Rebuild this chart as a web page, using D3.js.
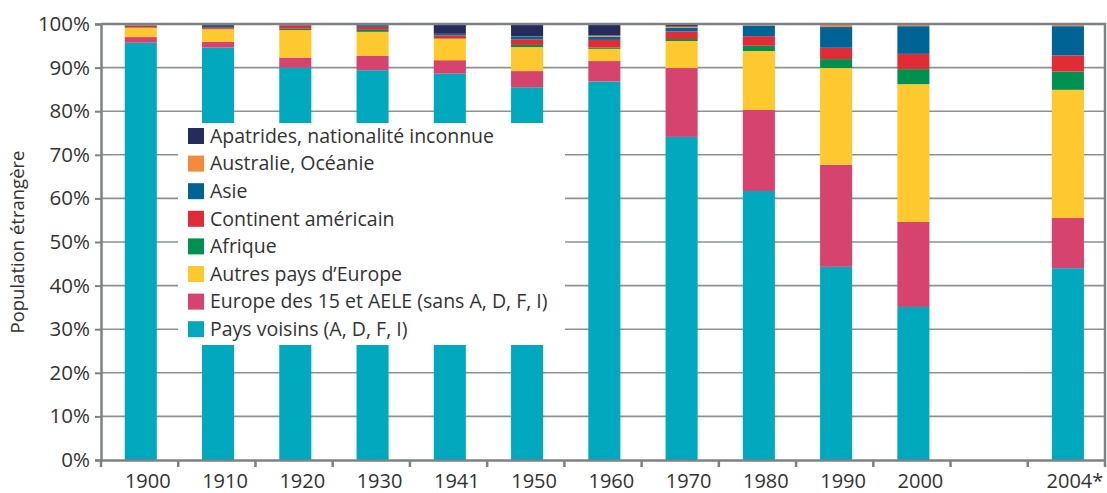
<!DOCTYPE html>
<html>
<head>
<meta charset="utf-8">
<script src="https://cdn.jsdelivr.net/npm/d3@7"></script>
<style>
  body { margin: 0; background: #fff; }
  text { font-family: "Open Sans", "DejaVu Sans", sans-serif; fill: #333; }
</style>
</head>
<body>
<div id="chart"></div>
<script>
// Categories (the blank one is the gap before 2004*)
const years = ['1900', '1910', '1920', '1930', '1941', '1950', '1960', '1970', '1980', '1990', '2000', '', '2004*'];

// Series, bottom to top, shares in percent
const seriesNames = [
  'Pays voisins (A, D, F, I)',
  'Europe des 15 et AELE (sans A, D, F, I)',
  'Autres pays d\u2019Europe',
  'Afrique',
  'Continent américain',
  'Asie',
  'Australie, Océanie',
  'Apatrides, nationalité inconnue'
];
const paysVoisins   = [95.7, 94.6, 90.0, 89.4, 88.6, 85.5, 86.8, 74.1, 61.7, 44.3, 35.1, null, 44.0];
const europe15      = [1.3, 1.3, 2.3, 3.3, 3.1, 3.7, 4.7, 15.8, 18.6, 23.4, 19.5, null, 11.5];
const autresEurope  = [2.1, 2.9, 6.3, 5.5, 4.9, 5.5, 2.8, 6.2, 13.5, 22.2, 31.6, null, 29.4];
const afrique       = [0.1, 0.1, 0.3, 0.45, 0.1, 0.5, 0.3, 0.45, 1.2, 2.05, 3.45, null, 4.2];
const amerique      = [0.4, 0.4, 0.8, 0.7, 0.7, 1.3, 1.75, 1.75, 2.2, 2.6, 3.5, null, 3.7];
const asie          = [0.1, 0.5, 0.1, 0.4, 0.3, 0.7, 0.7, 0.8, 2.45, 4.75, 6.35, null, 6.7];
const oceanie       = [0.05, 0.05, 0.05, 0.05, 0.05, 0.05, 0.3, 0.3, 0.3, 0.6, 0.3, null, 0.3];
const apatrides     = [0.25, 0.15, 0.15, 0.2, 2.25, 2.75, 2.65, 0.6, 0.05, 0.1, 0.2, null, 0.2];

const colors = ['#00a9bd', '#d6436e', '#fec92f', '#009150', '#e12c35', '#006395', '#f58a3d', '#232c5a'];

const yTicks = [0, 10, 20, 30, 40, 50, 60, 70, 80, 90, 100];

const allSeries = [paysVoisins, europe15, autresEurope, afrique, amerique, asie, oceanie, apatrides];

const W = 1107, H = 493;
const margin = { top: 24, right: 2, bottom: 33, left: 101 };

const svg = d3.select('#chart').append('svg')
  .attr('width', W)
  .attr('height', H);

const x = d3.scaleBand()
  .domain(years)
  .range([margin.left, W - margin.right])
  .paddingInner(0.585)
  .paddingOuter(0.29)
  .align(0.53);

const y = d3.scaleLinear()
  .domain([0, 100])
  .range([H - margin.bottom, margin.top]);

// Stack the data
const rows = years.map((yr, i) => {
  const r = { year: yr };
  seriesNames.forEach((s, k) => { r[s] = allSeries[k][i] || 0; });
  return r;
});
const stacked = d3.stack().keys(seriesNames)(rows);

// Gridlines
svg.append('g')
  .selectAll('line')
  .data(yTicks.slice(1, -1))
  .join('line')
    .attr('x1', margin.left)
    .attr('x2', W - margin.right)
    .attr('y1', d => y(d))
    .attr('y2', d => y(d))
    .attr('stroke', '#8d9193')
    .attr('stroke-width', 1.6);

// Bars
svg.append('g')
  .selectAll('g')
  .data(stacked)
  .join('g')
    .attr('fill', (d, i) => colors[i])
  .selectAll('rect')
  .data(d => d.filter(p => p.data.year !== ''))
  .join('rect')
    .attr('x', d => x(d.data.year))
    .attr('width', x.bandwidth())
    .attr('y', d => y(d[1]))
    .attr('height', d => y(d[0]) - y(d[1]));

// Frame (top and right)
svg.append('path')
  .attr('d', `M${margin.left},${y(100)}H${W - margin.right}V${y(0)}`)
  .attr('fill', 'none')
  .attr('stroke', '#7e8284')
  .attr('stroke-width', 2.5);

// Y axis
const yAxis = svg.append('g')
  .attr('transform', `translate(${margin.left},0)`)
  .call(d3.axisLeft(y).tickValues(yTicks).tickSize(6).tickPadding(5).tickFormat(d => d + '%'));
yAxis.select('.domain').attr('stroke', '#7e8284').attr('stroke-width', 2.5);
yAxis.selectAll('.tick line').attr('stroke', '#7e8284').attr('stroke-width', 2);
yAxis.selectAll('text').attr('font-size', 20.5).attr('fill', '#333');

// X axis: category boundaries split the axis evenly
const slot = (W - margin.right - margin.left) / years.length;
const xAxis = svg.append('g')
  .attr('transform', `translate(0,${y(0)})`)
  .call(d3.axisBottom(x).tickSize(0).tickPadding(14));
xAxis.select('.domain').attr('stroke', '#7e8284').attr('stroke-width', 2.5);
xAxis.selectAll('text').attr('font-size', 20).attr('fill', '#333').attr('dx', 7);

xAxis.selectAll('.bound')
  .data(d3.range(years.length + 1))
  .join('line')
    .attr('class', 'bound')
    .attr('x1', i => margin.left + i * slot)
    .attr('x2', i => margin.left + i * slot)
    .attr('y1', 0)
    .attr('y2', 7)
    .attr('stroke', '#7e8284')
    .attr('stroke-width', 2.5);

// Y title
svg.append('text')
  .attr('transform', `translate(24,${(y(0) + y(100)) / 2}) rotate(-90)`)
  .attr('text-anchor', 'middle')
  .attr('font-size', 18.5)
  .text('Population étrangère');

// Legend
const legend = svg.append('g');
legend.append('rect')
  .attr('x', 178)
  .attr('y', 123)
  .attr('width', 387)
  .attr('height', 222)
  .attr('fill', '#fff');

const items = legend.selectAll('g.item')
  .data(seriesNames.map((s, i) => ({ name: s, color: colors[i] })).reverse())
  .join('g')
    .attr('class', 'item')
    .attr('transform', (d, i) => `translate(188,${136 + i * 27.6})`);
items.append('rect')
  .attr('x', 0)
  .attr('y', -8)
  .attr('width', 16)
  .attr('height', 16)
  .attr('fill', d => d.color);
items.append('text')
  .attr('x', 22)
  .attr('dy', '0.35em')
  .attr('font-size', 19.5)
  .text(d => d.name);
</script>
</body>
</html>
